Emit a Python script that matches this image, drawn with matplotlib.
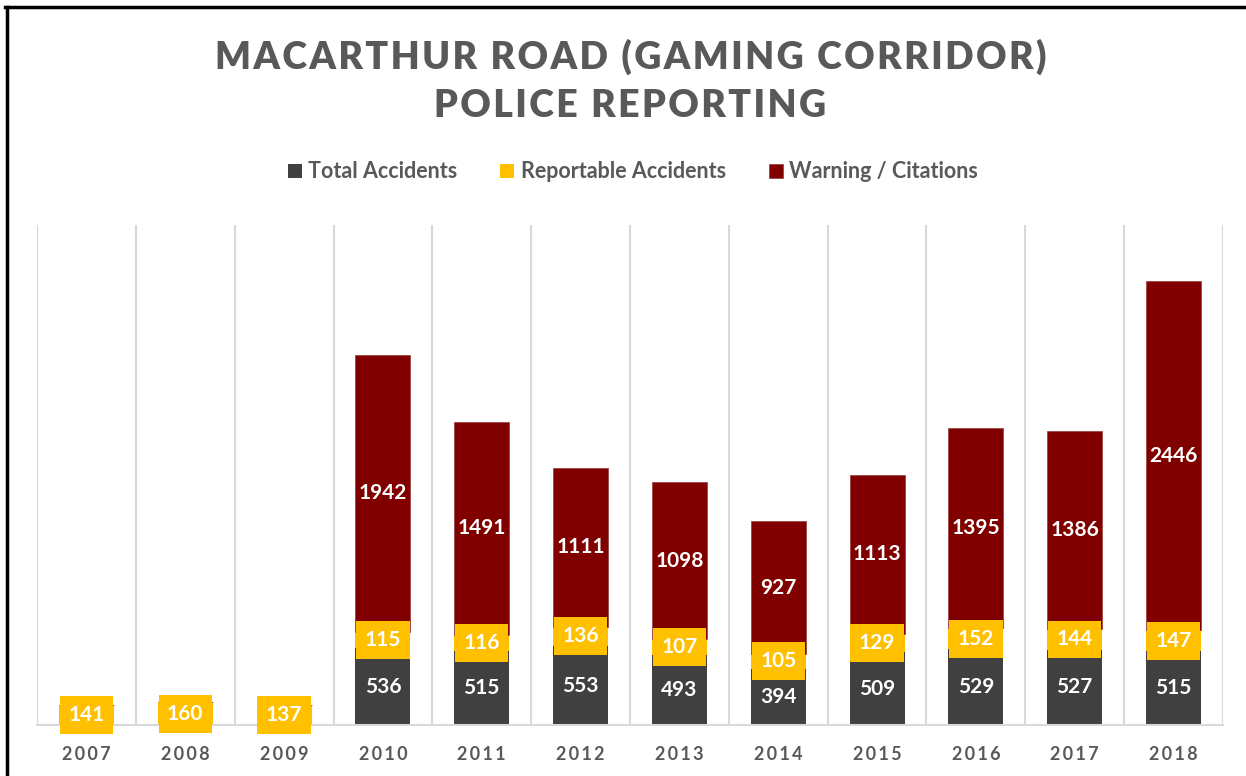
import numpy as np
import matplotlib.pyplot as plt
from matplotlib.lines import Line2D
from matplotlib.patches import Rectangle

# data
years = ['2007', '2008', '2009', '2010', '2011', '2012',
         '2013', '2014', '2015', '2016', '2017', '2018']
total_accidents = [0, 0, 0, 536, 515, 553, 493, 394, 509, 529, 527, 515]
reportable = [141, 160, 137, 115, 116, 136, 107, 105, 129, 152, 144, 147]
warnings = [0, 0, 0, 1942, 1491, 1111, 1098, 927, 1113, 1395, 1386, 2446]

plt.rcParams['font.family'] = ['Lato', 'DejaVu Sans']
c_dark, c_yel, c_red = '#404040', '#FFC000', '#800000'
grey_txt = '#595959'

fig = plt.figure(figsize=(12.46, 7.76), dpi=100)
ax = fig.add_axes([37/1246, 1-725/776, (1223-37)/1246, 500/776])

x = np.arange(len(years))
w = 0.556
tot = np.array(total_accidents)
rep = np.array(reportable)
war = np.array(warnings)

ax.bar(x, tot, w, color=c_dark, label='Total Accidents', zorder=2)
ax.bar(x, rep, w, bottom=tot, color=c_yel, label='Reportable Accidents', zorder=2)
ax.bar(x, war, w, bottom=tot + rep, color=c_red, edgecolor='#a04848',
       linewidth=0.6, label='Warning / Citations', zorder=2)

ax.set_xlim(-0.5, len(years) - 0.5)
ax.set_ylim(0, 3500)

lab = dict(ha='center', va='center', color='white', fontsize=15,
           fontweight='bold', zorder=4)
box_w, box_h = 0.54, 265  # label box size in data units (~53 x 38 px)
for i in range(len(years)):
    if tot[i] > 0:
        ax.text(x[i], tot[i] / 2, str(tot[i]), **lab)
    yc = tot[i] + rep[i] / 2
    ax.add_patch(Rectangle((x[i] - box_w / 2, yc - box_h / 2), box_w, box_h,
                           fc=c_yel, ec='none', zorder=3, clip_on=False))
    ax.text(x[i], yc, str(rep[i]), **lab)
    if war[i] > 0:
        ax.text(x[i], tot[i] + rep[i] + war[i] / 2, str(war[i]), **lab)

ax.set_yticks([])
ax.set_xticks(x)
ax.set_xticklabels(['\u2009'.join(y) for y in years], fontsize=13,
                   fontweight='bold', color=grey_txt)
ax.tick_params(axis='x', length=0, pad=15)
ax.set_xticks(np.arange(-0.5, len(years)), minor=True)
ax.tick_params(axis='x', which='minor', length=0)
ax.grid(axis='x', which='minor', color='#d9d9d9', linewidth=1.5, zorder=0)
for s in ['top', 'right', 'left']:
    ax.spines[s].set_visible(False)
ax.spines['bottom'].set_color('#d9d9d9')
ax.spines['bottom'].set_linewidth(1.5)

title1 = '\u200a'.join('MACARTHUR ROAD (GAMING CORRIDOR)')
title2 = '\u200a'.join('POLICE REPORTING')
fig.text(0.506, 1-57/776, title1, ha='center', va='center', fontsize=27,
         fontweight='heavy', color=grey_txt)
fig.text(0.506, 1-106/776, title2, ha='center', va='center', fontsize=27,
         fontweight='heavy', color=grey_txt)

fig.legend(loc='center', bbox_to_anchor=(0.508, 1-172/776), ncol=3,
           frameon=False, handlelength=0.65, handleheight=0.65,
           handletextpad=0.3, columnspacing=2.0,
           prop={'weight': 'bold', 'size': 15.5}, labelcolor=grey_txt)

# outer frame (top and left only visible)
fig.add_artist(Line2D([5/1246, 1], [1-7/776, 1-7/776], color='black',
                      linewidth=2.5, transform=fig.transFigure))
fig.add_artist(Line2D([7/1246, 7/1246], [0, 1-7/776], color='black',
                      linewidth=2.5, transform=fig.transFigure))

fig.savefig('out.png', dpi=100)
